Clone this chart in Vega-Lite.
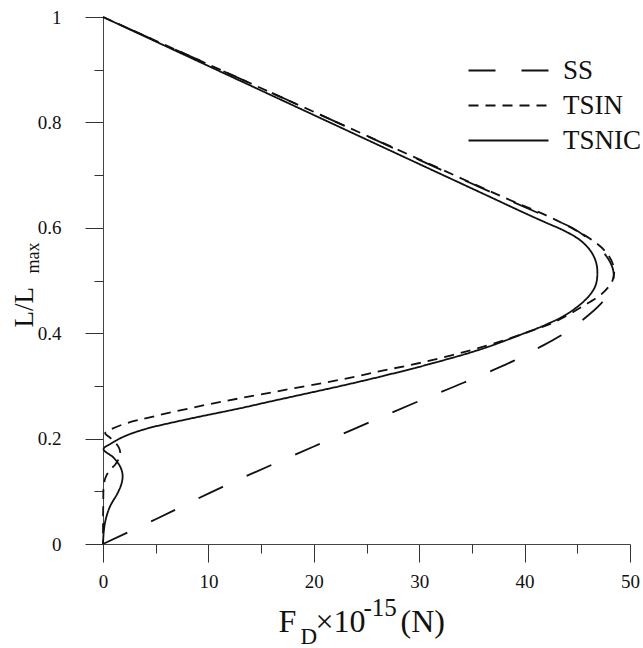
{
  "$schema": "https://vega.github.io/schema/vega-lite/v6.json",
  "width": 527,
  "height": 527,
  "autosize": {"type": "none"},
  "padding": {"left": 103, "top": 17, "right": 13, "bottom": 104},
  "background": "white",
  "config": {
    "view": {"stroke": null},
    "font": "Liberation Serif",
    "style": {"guide-label": {"font": "Liberation Serif"}, "guide-title": {"font": "Liberation Serif"}},
    "axis": {"grid": false, "domainColor": "#444", "tickColor": "#333", "labelColor": "#111", "titleColor": "#111", "labelFont": "Liberation Serif", "titleFont": "Liberation Serif", "titleFontWeight": "normal"},
    "legend": {"labelFont": "Liberation Serif"}
  },
  "data": {"values": [
    {"series": "SS", "order": 22, "F": 0, "L": 1},
    {"series": "SS", "order": 21, "F": 10, "L": 0.91},
    {"series": "SS", "order": 20, "F": 20, "L": 0.82},
    {"series": "SS", "order": 19, "F": 30, "L": 0.729},
    {"series": "SS", "order": 18, "F": 38, "L": 0.657},
    {"series": "SS", "order": 17, "F": 42, "L": 0.622},
    {"series": "SS", "order": 16, "F": 44.5, "L": 0.6},
    {"series": "SS", "order": 15, "F": 46.5, "L": 0.572},
    {"series": "SS", "order": 14, "F": 47.8, "L": 0.545},
    {"series": "SS", "order": 13, "F": 48.4, "L": 0.52},
    {"series": "SS", "order": 12, "F": 48.4, "L": 0.5},
    {"series": "SS", "order": 11, "F": 47.9, "L": 0.475},
    {"series": "SS", "order": 10, "F": 47.2, "L": 0.455},
    {"series": "SS", "order": 9, "F": 45.5, "L": 0.425},
    {"series": "SS", "order": 8, "F": 43.4, "L": 0.395},
    {"series": "SS", "order": 7, "F": 41.2, "L": 0.371},
    {"series": "SS", "order": 6, "F": 38.9, "L": 0.347},
    {"series": "SS", "order": 5, "F": 34.2, "L": 0.306},
    {"series": "SS", "order": 4, "F": 29.6, "L": 0.268},
    {"series": "SS", "order": 3, "F": 20, "L": 0.185},
    {"series": "SS", "order": 2, "F": 11.3, "L": 0.108},
    {"series": "SS", "order": 1, "F": 5, "L": 0.047},
    {"series": "SS", "order": 0, "F": 0, "L": 0},
    {"series": "TSIN", "order": 0, "F": 0, "L": 1},
    {"series": "TSIN", "order": 1, "F": 10, "L": 0.91},
    {"series": "TSIN", "order": 2, "F": 20, "L": 0.82},
    {"series": "TSIN", "order": 3, "F": 30, "L": 0.73},
    {"series": "TSIN", "order": 4, "F": 38, "L": 0.658},
    {"series": "TSIN", "order": 5, "F": 42, "L": 0.624},
    {"series": "TSIN", "order": 6, "F": 44.7, "L": 0.597},
    {"series": "TSIN", "order": 7, "F": 46.6, "L": 0.574},
    {"series": "TSIN", "order": 8, "F": 47.8, "L": 0.552},
    {"series": "TSIN", "order": 9, "F": 48.4, "L": 0.53},
    {"series": "TSIN", "order": 10, "F": 48.5, "L": 0.515},
    {"series": "TSIN", "order": 11, "F": 48.3, "L": 0.498},
    {"series": "TSIN", "order": 12, "F": 47.4, "L": 0.476},
    {"series": "TSIN", "order": 13, "F": 45.6, "L": 0.452},
    {"series": "TSIN", "order": 14, "F": 42.8, "L": 0.421},
    {"series": "TSIN", "order": 15, "F": 40, "L": 0.4},
    {"series": "TSIN", "order": 16, "F": 36, "L": 0.374},
    {"series": "TSIN", "order": 17, "F": 30.6, "L": 0.346},
    {"series": "TSIN", "order": 18, "F": 26.3, "L": 0.328},
    {"series": "TSIN", "order": 19, "F": 22.8, "L": 0.313},
    {"series": "TSIN", "order": 20, "F": 15, "L": 0.284},
    {"series": "TSIN", "order": 21, "F": 10, "L": 0.265},
    {"series": "TSIN", "order": 22, "F": 5, "L": 0.243},
    {"series": "TSIN", "order": 23, "F": 1.9, "L": 0.227},
    {"series": "TSIN", "order": 24, "F": 0.6, "L": 0.216},
    {"series": "TSIN", "order": 25, "F": 0.2, "L": 0.21},
    {"series": "TSIN", "order": 26, "F": 0.6, "L": 0.203},
    {"series": "TSIN", "order": 27, "F": 1.2, "L": 0.192},
    {"series": "TSIN", "order": 28, "F": 1.6, "L": 0.178},
    {"series": "TSIN", "order": 29, "F": 1.55, "L": 0.165},
    {"series": "TSIN", "order": 30, "F": 1.2, "L": 0.152},
    {"series": "TSIN", "order": 31, "F": 0.8, "L": 0.143},
    {"series": "TSIN", "order": 32, "F": 0.35, "L": 0.131},
    {"series": "TSIN", "order": 33, "F": 0.1, "L": 0.115},
    {"series": "TSIN", "order": 34, "F": 0.02, "L": 0.07},
    {"series": "TSIN", "order": 35, "F": 0, "L": 0},
    {"series": "TSNIC", "order": 0, "F": 0, "L": 1},
    {"series": "TSNIC", "order": 1, "F": 10, "L": 0.907},
    {"series": "TSNIC", "order": 2, "F": 20, "L": 0.814},
    {"series": "TSNIC", "order": 3, "F": 30, "L": 0.721},
    {"series": "TSNIC", "order": 4, "F": 37, "L": 0.656},
    {"series": "TSNIC", "order": 5, "F": 40, "L": 0.628},
    {"series": "TSNIC", "order": 6, "F": 42, "L": 0.61},
    {"series": "TSNIC", "order": 7, "F": 43.8, "L": 0.594},
    {"series": "TSNIC", "order": 8, "F": 45.3, "L": 0.576},
    {"series": "TSNIC", "order": 9, "F": 46.3, "L": 0.555},
    {"series": "TSNIC", "order": 10, "F": 46.8, "L": 0.533},
    {"series": "TSNIC", "order": 11, "F": 46.9, "L": 0.51},
    {"series": "TSNIC", "order": 12, "F": 46.7, "L": 0.489},
    {"series": "TSNIC", "order": 13, "F": 45.9, "L": 0.466},
    {"series": "TSNIC", "order": 14, "F": 44, "L": 0.436},
    {"series": "TSNIC", "order": 15, "F": 42, "L": 0.416},
    {"series": "TSNIC", "order": 16, "F": 40, "L": 0.4},
    {"series": "TSNIC", "order": 17, "F": 36, "L": 0.3705},
    {"series": "TSNIC", "order": 18, "F": 31, "L": 0.3415},
    {"series": "TSNIC", "order": 19, "F": 26.3, "L": 0.3175},
    {"series": "TSNIC", "order": 20, "F": 22.8, "L": 0.301},
    {"series": "TSNIC", "order": 21, "F": 15.9, "L": 0.2705},
    {"series": "TSNIC", "order": 22, "F": 13, "L": 0.2575},
    {"series": "TSNIC", "order": 23, "F": 7.6, "L": 0.235},
    {"series": "TSNIC", "order": 24, "F": 4, "L": 0.218},
    {"series": "TSNIC", "order": 25, "F": 2, "L": 0.204},
    {"series": "TSNIC", "order": 26, "F": 0.8, "L": 0.191},
    {"series": "TSNIC", "order": 27, "F": 0.05, "L": 0.18},
    {"series": "TSNIC", "order": 28, "F": 1.0, "L": 0.164},
    {"series": "TSNIC", "order": 29, "F": 1.6, "L": 0.148},
    {"series": "TSNIC", "order": 30, "F": 1.85, "L": 0.133},
    {"series": "TSNIC", "order": 31, "F": 1.8, "L": 0.118},
    {"series": "TSNIC", "order": 32, "F": 1.45, "L": 0.099},
    {"series": "TSNIC", "order": 33, "F": 0.66, "L": 0.071},
    {"series": "TSNIC", "order": 34, "F": 0.25, "L": 0.046},
    {"series": "TSNIC", "order": 35, "F": 0.08, "L": 0.025},
    {"series": "TSNIC", "order": 36, "F": 0, "L": 0}
  ]},
  "resolve": {"axis": {"x": "independent", "y": "independent"}},
  "layer": [
    {
      "mark": {"type": "line", "color": "#111", "strokeWidth": 1.8, "interpolate": "catmull-rom"},
      "encoding": {
        "x": {"field": "F", "type": "quantitative", "scale": {"domain": [0, 50], "nice": false},
          "axis": {"orient": "bottom", "values": [0, 10, 20, 30, 40, 50], "tickSize": 18, "labelFont": "Liberation Serif", "labelFontSize": 19, "labelPadding": 10, "labelFlush": false,
            "title": "F", "titleFont": "Liberation Serif", "titleX": 175, "titleY": 87, "titleAlign": "left", "titleBaseline": "alphabetic", "titleFontSize": 32}},
        "y": {"field": "L", "type": "quantitative", "scale": {"domain": [0, 1], "nice": false},
          "axis": {"orient": "left", "values": [0, 0.2, 0.4, 0.6, 0.8, 1], "format": "~g", "tickSize": 18, "labelFont": "Liberation Serif", "labelFontSize": 19, "labelPadding": 24, "labelFlush": false,
            "title": "L/L", "titleFont": "Liberation Serif", "titleAngle": 270, "titleX": -71, "titleY": 310, "titleAlign": "left", "titleBaseline": "alphabetic", "titleFontSize": 27}},
        "strokeDash": {"field": "series", "type": "nominal",
          "scale": {"domain": ["SS", "TSIN", "TSNIC"], "range": [[27, 26], [10, 7], [1, 0]]},
          "legend": {"orient": "none", "legendX": 391, "legendY": 39, "title": null, "symbolType": "M-3,0H3", "symbolSize": 711, "symbolStrokeWidth": 1.8, "symbolStrokeColor": "#111", "labelFontSize": 27, "labelFont": "Liberation Serif", "labelColor": "#111", "labelOffset": 40, "padding": 0, "rowPadding": 7}},
        "order": {"field": "order", "type": "quantitative"}
      }
    },
    {
      "transform": [{"filter": "datum.order == 0 && datum.series == 'TSIN'"}],
      "mark": {"type": "point", "opacity": 0},
      "encoding": {
        "x": {"field": "F", "type": "quantitative",
          "axis": {"orient": "bottom", "domain": false, "ticks": false, "labels": false,
            "title": "D", "titleFont": "Liberation Serif", "titleX": 197, "titleY": 99, "titleAlign": "left", "titleBaseline": "alphabetic", "titleFontSize": 23}},
        "y": {"field": "L", "type": "quantitative",
          "axis": {"orient": "left", "domain": false, "ticks": false, "labels": false,
            "title": "max", "titleFont": "Liberation Serif", "titleAngle": 270, "titleX": -65, "titleY": 256, "titleAlign": "left", "titleBaseline": "alphabetic", "titleFontSize": 18}}
      }
    },
    {
      "transform": [{"filter": "datum.order == 0 && datum.series == 'TSIN'"}],
      "mark": {"type": "point", "opacity": 0},
      "encoding": {
        "x": {"field": "F", "type": "quantitative",
          "axis": {"orient": "bottom", "domain": false, "ticks": false, "labels": false,
            "title": "×10", "titleFont": "Liberation Serif", "titleX": 212, "titleY": 87, "titleAlign": "left", "titleBaseline": "alphabetic", "titleFontSize": 32}},
        "y": {"field": "L", "type": "quantitative",
          "axis": {"orient": "left", "domain": false, "labels": false, "values": [0.1, 0.3, 0.5, 0.7, 0.9], "tickSize": 9, "title": null}}
      }
    },
    {
      "transform": [{"filter": "datum.order == 0 && datum.series == 'TSIN'"}],
      "mark": {"type": "point", "opacity": 0},
      "encoding": {
        "x": {"field": "F", "type": "quantitative",
          "axis": {"orient": "bottom", "domain": false, "labels": false, "values": [5, 15, 25, 35, 45], "tickSize": 9,
            "title": "-15", "titleFont": "Liberation Serif", "titleX": 260, "titleY": 71, "titleAlign": "left", "titleBaseline": "alphabetic", "titleFontSize": 25}},
        "y": {"field": "L", "type": "quantitative", "axis": null}
      }
    },
    {
      "transform": [{"filter": "datum.order == 0 && datum.series == 'TSIN'"}],
      "mark": {"type": "point", "opacity": 0},
      "encoding": {
        "x": {"field": "F", "type": "quantitative",
          "axis": {"orient": "bottom", "domain": false, "ticks": false, "labels": false,
            "title": "(N)", "titleFont": "Liberation Serif", "titleX": 297, "titleY": 87, "titleAlign": "left", "titleBaseline": "alphabetic", "titleFontSize": 32}},
        "y": {"field": "L", "type": "quantitative", "axis": null}
      }
    }
  ]
}
